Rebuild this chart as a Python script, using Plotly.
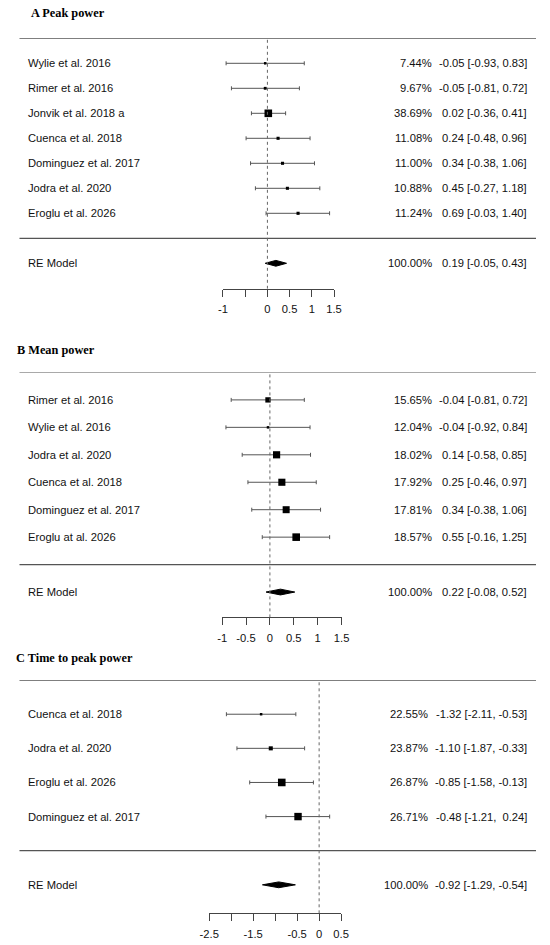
import plotly.graph_objects as go

W, H = 550, 945

# A Peak power
a_studies = ["Wylie et al. 2016", "Rimer et al. 2016", "Jonvik et al. 2018 a", "Cuenca et al. 2018",
             "Dominguez et al. 2017", "Jodra et al. 2020", "Eroglu et al. 2026"]
a_weight = [7.44, 9.67, 38.69, 11.08, 11.00, 10.88, 11.24]
a_est = [-0.05, -0.05, 0.02, 0.24, 0.34, 0.45, 0.69]
a_lower = [-0.93, -0.81, -0.36, -0.48, -0.38, -0.27, -0.03]
a_upper = [0.83, 0.72, 0.41, 0.96, 1.06, 1.18, 1.40]
a_re = [0.19, -0.05, 0.43]
a_ticks = [-1, -0.5, 0, 0.5, 1, 1.5]
a_ticklabels = ["-1", "", "0", "0.5", "1", "1.5"]

# B Mean power
b_studies = ["Rimer et al. 2016", "Wylie et al. 2016", "Jodra et al. 2020", "Cuenca et al. 2018",
             "Dominguez et al. 2017", "Eroglu at al. 2026"]
b_weight = [15.65, 12.04, 18.02, 17.92, 17.81, 18.57]
b_est = [-0.04, -0.04, 0.14, 0.25, 0.34, 0.55]
b_lower = [-0.81, -0.92, -0.58, -0.46, -0.38, -0.16]
b_upper = [0.72, 0.84, 0.85, 0.97, 1.06, 1.25]
b_re = [0.22, -0.08, 0.52]
b_ticks = [-1, -0.5, 0, 0.5, 1, 1.5]
b_ticklabels = ["-1", "-0.5", "0", "0.5", "1", "1.5"]

# C Time to peak power
c_studies = ["Cuenca et al. 2018", "Jodra et al. 2020", "Eroglu et al. 2026", "Dominguez et al. 2017"]
c_weight = [22.55, 23.87, 26.87, 26.71]
c_est = [-1.32, -1.10, -0.85, -0.48]
c_lower = [-2.11, -1.87, -1.58, -1.21]
c_upper = [-0.53, -0.33, -0.13, 0.24]
c_re = [-0.92, -1.29, -0.54]
c_ticks = [-2.5, -2, -1.5, -1, -0.5, 0, 0.5]
c_ticklabels = ["-2.5", "", "-1.5", "", "-0.5", "0", "0.5"]

panels = [
    dict(title="A Peak power", studies=a_studies, weight=a_weight, est=a_est, lower=a_lower,
         upper=a_upper, re=a_re, ticks=a_ticks, ticklabels=a_ticklabels,
         title_px=(19.3, 13.3), row0=238.3, step=25.0, axis_px=288.8, xpx=(220.2, 335.0),
         pct_px=438.4),
    dict(title="B Mean power", studies=b_studies, weight=b_weight, est=b_est, lower=b_lower,
         upper=b_upper, re=b_re, ticks=b_ticks, ticklabels=b_ticklabels,
         title_px=(5.3, 349.5), row0=564.6, step=27.45, axis_px=617.4, xpx=(219.3, 342.8),
         pct_px=438.4),
    dict(title="C Time to peak power", studies=c_studies, weight=c_weight, est=c_est, lower=c_lower,
         upper=c_upper, re=c_re, ticks=c_ticks, ticklabels=c_ticklabels,
         title_px=(4.2, 657.5), row0=850.7, step=34.12, axis_px=913.3, xpx=(206.0, 342.3),
         pct_px=434.5),
]

FONT = "Liberation Sans, Arial, sans-serif"
FS = 11.2
NB = "\u00a0"


def py(p):
    return 1 - p / H


def pad(vals):
    s = ["%.2f" % v for v in vals]
    n = max(len(t) for t in s)
    return [NB * (n - len(t)) + t for t in s]


fig = go.Figure()
shapes, annotations = [], []
layout = {}

for i, p in enumerate(panels):
    sfx = "" if i == 0 else str(i + 1)
    xa, ya = "x" + sfx, "y" + sfx
    k = len(p["studies"])
    rows = [k - j for j in range(k)]
    top = k + 1
    ybot = (p["row0"] - p["axis_px"]) / p["step"]
    top_px = p["row0"] - p["step"] * top

    layout["xaxis" + sfx] = dict(
        domain=[p["xpx"][0] / W, p["xpx"][1] / W], range=[p["ticks"][0], p["ticks"][-1]],
        anchor=ya, tickvals=p["ticks"], ticktext=p["ticklabels"], ticks="outside", ticklen=7,
        tickcolor="#444", tickwidth=1, showline=True, linecolor="#444", linewidth=1,
        showgrid=False, zeroline=False, ticklabelstandoff=3,
        tickfont=dict(family=FONT, size=FS, color="#111"), fixedrange=True)
    layout["yaxis" + sfx] = dict(
        domain=[py(p["axis_px"]), py(top_px)], range=[ybot, top], anchor=xa,
        visible=False, fixedrange=True)

    # confidence intervals
    fig.add_trace(go.Scatter(
        x=p["est"], y=rows, xaxis=xa, yaxis=ya, mode="markers",
        marker=dict(size=1, color="rgba(0,0,0,0)"),
        error_x=dict(type="data", symmetric=False,
                     array=[u - e for u, e in zip(p["upper"], p["est"])],
                     arrayminus=[e - l for e, l in zip(p["est"], p["lower"])],
                     color="#555", thickness=1, width=2),
        cliponaxis=False, showlegend=False, hoverinfo="skip"))

    # squares sized by weight (metafor style)
    wmin, wmax = min(p["weight"]), max(p["weight"])
    sizes = [2.5 + 5.1 * (w - wmin) / (wmax - wmin) for w in p["weight"]]
    fig.add_trace(go.Scatter(
        x=p["est"], y=rows, xaxis=xa, yaxis=ya, mode="markers",
        marker=dict(symbol="square", size=sizes, color="black", opacity=1,
                    line=dict(width=0)),
        cliponaxis=False, showlegend=False, hoverinfo="skip"))

    # RE model diamond
    est, lb, ub = p["re"]
    h = 2.9 / p["step"]
    fig.add_trace(go.Scatter(
        x=[lb, est, ub, est, lb], y=[-1, -1 + h, -1, -1 - h, -1], xaxis=xa, yaxis=ya,
        mode="lines", fill="toself", fillcolor="black", line=dict(color="black", width=1),
        cliponaxis=False, showlegend=False, hoverinfo="skip"))

    # rules and reference line
    for r in (top, 0):
        shapes.append(dict(type="line", xref="paper", yref=ya, x0=9.8 / W, x1=543.8 / W,
                           y0=r, y1=r, line=dict(color="#555", width=1.3)))
    shapes.append(dict(type="line", xref=xa, yref=ya, x0=0, x1=0, y0=ybot, y1=top,
                       line=dict(color="#666", width=1, dash="dot")))

    # text columns
    ests = pad(p["est"] + [est])
    lbs = pad(p["lower"] + [lb])
    ubs = pad(p["upper"] + [ub])
    labels = p["studies"] + ["RE Model"]
    pcts = ["%.2f%%" % w for w in p["weight"]] + ["100.00%"]
    yrows = rows + [-1]
    font = dict(family=FONT, size=FS, color="#111")
    for lab, pc, e, l, u, r in zip(labels, pcts, ests, lbs, ubs, yrows):
        annotations.append(dict(text=lab, xref="paper", yref=ya, x=16.8 / W, y=r,
                                xanchor="left", yanchor="middle", showarrow=False, font=font))
        annotations.append(dict(text=pc, xref="paper", yref=ya, x=p["pct_px"] / W, y=r,
                                xanchor="right", yanchor="middle", showarrow=False, font=font))
        annotations.append(dict(text="%s [%s, %s]" % (e, l, u), xref="paper", yref=ya,
                                x=536.8 / W, y=r, xanchor="right", yanchor="middle",
                                showarrow=False, font=font))

    annotations.append(dict(text="<b>%s</b>" % p["title"], xref="paper", yref="paper",
                            x=p["title_px"][0] / W, y=py(p["title_px"][1]),
                            xanchor="left", yanchor="middle", showarrow=False,
                            font=dict(family="Liberation Serif, Times New Roman, serif",
                                      size=12.3, color="black")))

fig.update_layout(
    width=W, height=H, margin=dict(l=0, r=0, t=0, b=0),
    paper_bgcolor="white", plot_bgcolor="white",
    shapes=shapes, annotations=annotations, **layout)

fig.write_html("out.html", config={"displayModeBar": False},
               post_script="document.body.style.margin='0';")
